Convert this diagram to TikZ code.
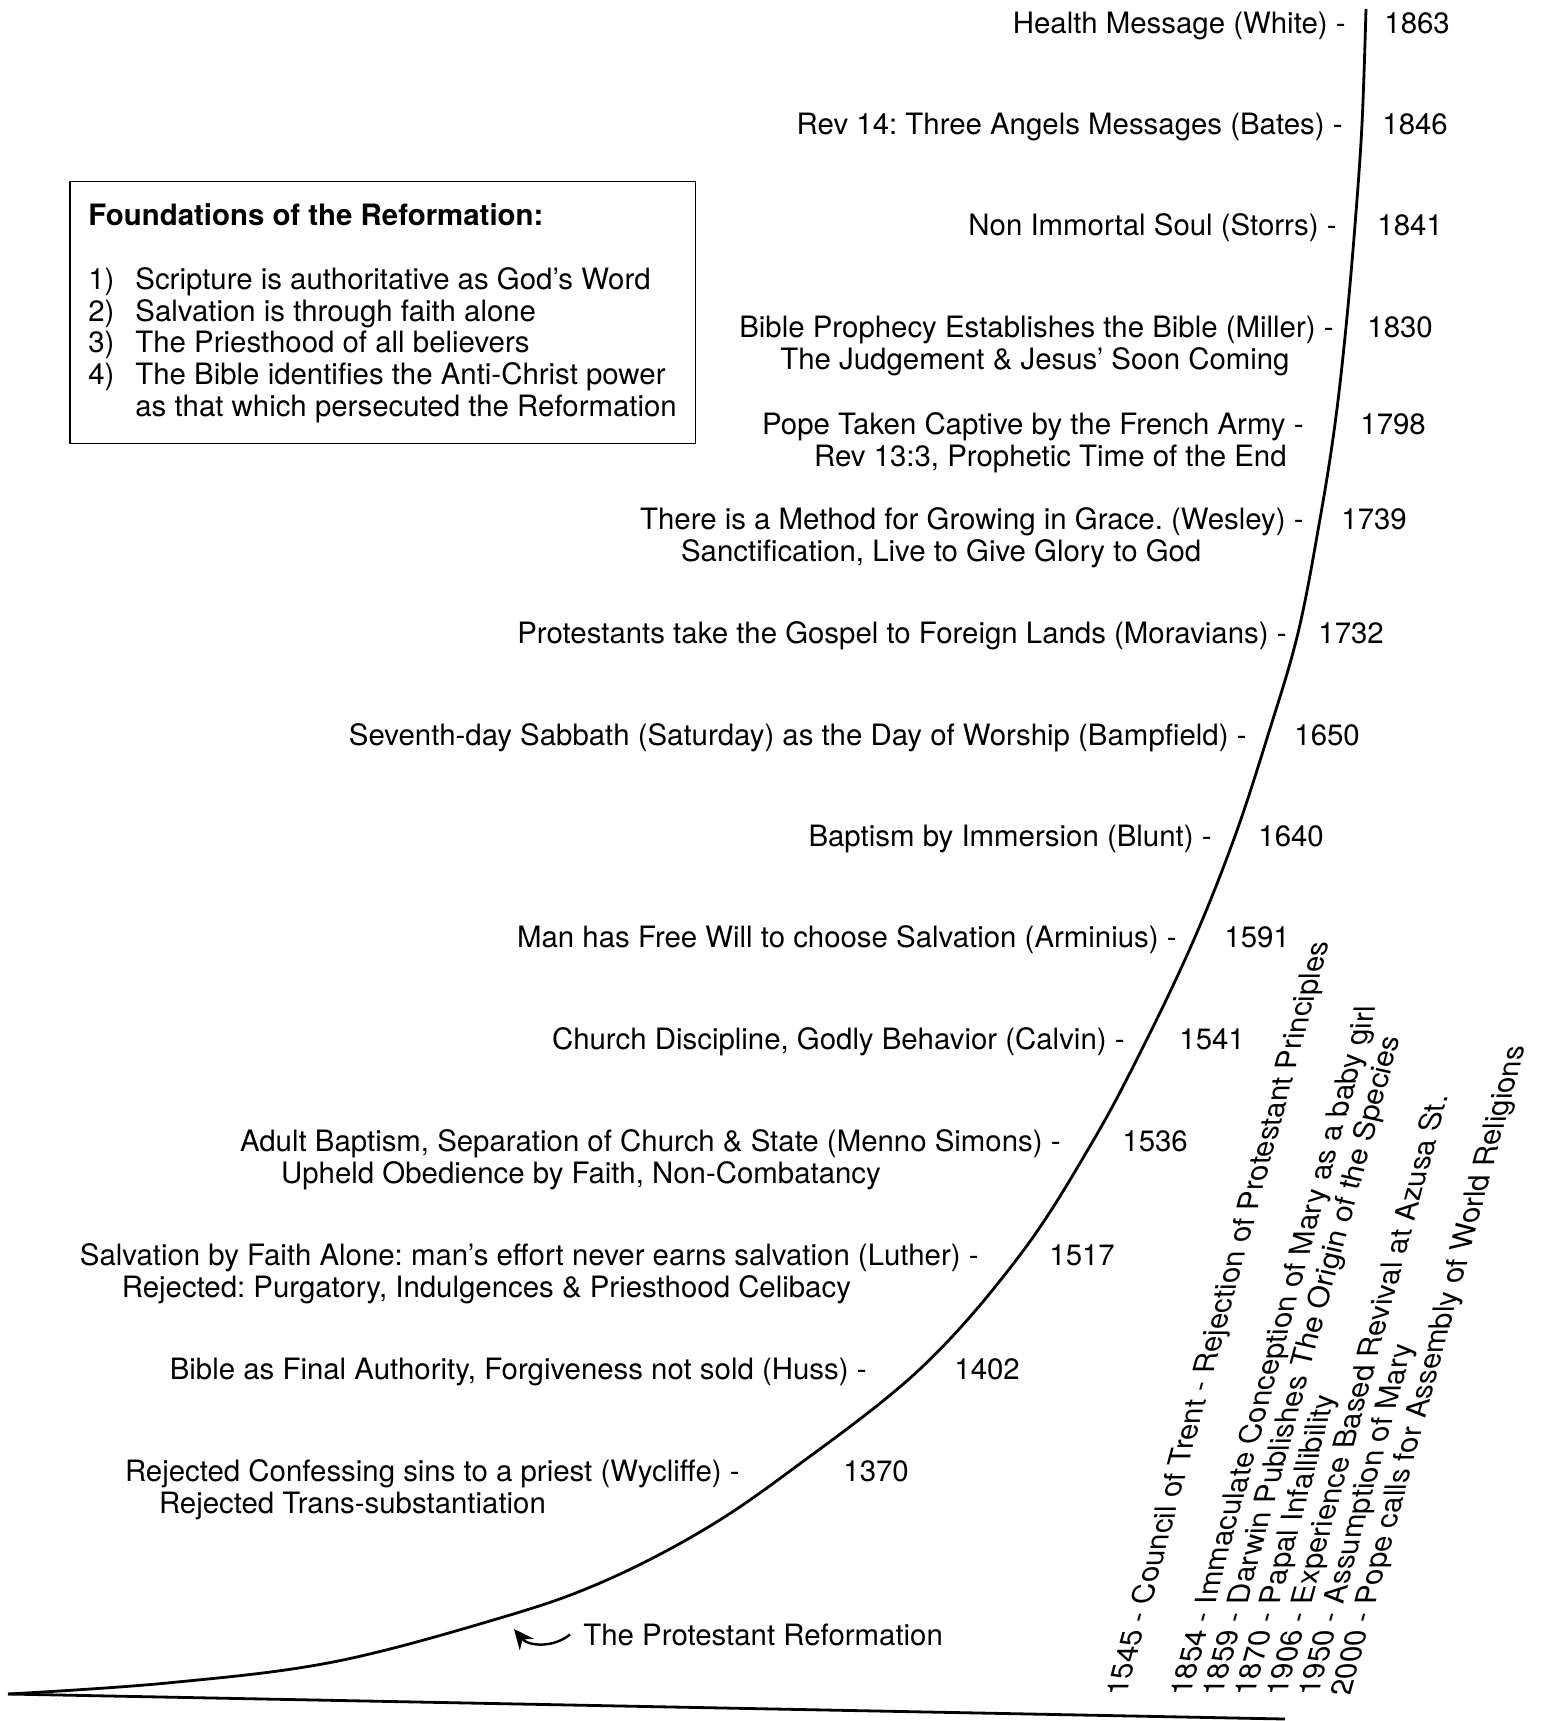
\documentclass[tikz,border=0pt]{standalone}
\usepackage{fontspec}
\setmainfont{TeX Gyre Heros}
\usetikzlibrary{positioning}
\usetikzlibrary{fit}
\usetikzlibrary{arrows.meta}
\frenchspacing
\tikzset{ev/.style={inner sep=0pt,font=\fontsize{14.7}{16}\selectfont,align=left}}
\tikzset{yr/.style={inner sep=0pt,font=\fontsize{14.7}{16}\selectfont,anchor=base west}}
\tikzset{>={Stealth[length=10pt,width=9pt]}}

\begin{document}
\begin{tikzpicture}[x=0.5pt,y=-0.5pt,line width=1.4pt]
\useasboundingbox (0,0) rectangle (1541,1721);

% events, newest at the top (two-line ones sit on their last line)
\node[ev,anchor=base east] (white) at (1347,33) {Health Message (White) -};
\node[ev,anchor=base east] (bates) at (1344,134) {Rev 14: Three Angels Messages (Bates) -};
\node[ev,anchor=base east] (storrs) at (1338,235) {Non Immortal Soul (Storrs) -};
\node[ev,anchor=base east] (miller) at (1335,369) {Bible Prophecy Establishes the Bible (Miller) -\\\hspace*{20.5pt}The Judgement \& Jesus’ Soon Coming};
\node[ev,anchor=base east] (pope) at (1305,466) {Pope Taken Captive by the French Army -\\\hspace*{26pt}Rev 13:3, Prophetic Time of the End};
\node[ev,anchor=base east] (wesley) at (1305,561) {There is a Method for Growing in Grace. (Wesley) -\\\hspace*{20.5pt}Sanctification, Live to Give Glory to God};
\node[ev,anchor=base east] (moravians) at (1288,643) {Protestants take the Gospel to Foreign Lands (Moravians) -};
\node[ev,anchor=base east] (bampfield) at (1248,745) {Seventh-day Sabbath (Saturday) as the Day of Worship (Bampfield) -};
\node[ev,anchor=base east] (blunt) at (1213,846) {Baptism by Immersion (Blunt) -};
\node[ev,anchor=base east] (arminius) at (1178,947) {Man has Free Will to choose Salvation (Arminius) -};
\node[ev,anchor=base east] (calvin) at (1126,1049) {Church Discipline, Godly Behavior (Calvin) -};
\node[ev,anchor=base east] (menno) at (1062,1183) {Adult Baptism, Separation of Church \& State (Menno Simons) -\\\hspace*{20.5pt}Upheld Obedience by Faith, Non-Combatancy};
\node[ev,anchor=base east] (luther) at (980,1297) {Salvation by Faith Alone: man’s effort never earns salvation (Luther) -\\\hspace*{21pt}Rejected: Purgatory, Indulgences \& Priesthood Celibacy};
\node[ev,anchor=base east] (huss) at (868,1379) {Bible as Final Authority, Forgiveness not sold (Huss) -};
\node[ev,anchor=base east] (wycliffe) at (741,1513) {Rejected Confessing sins to a priest (Wycliffe) -\\\hspace*{17pt}Rejected Trans-substantiation};

% years
\node[yr] (y1863) at (1383,33) {1863};
\node[yr] (y1846) at (1381,134) {1846};
\node[yr] (y1841) at (1376,235) {1841};
\node[yr] (y1830) at (1366,337) {1830};
\node[yr] (y1798) at (1359,434) {1798};
\node[yr] (y1739) at (1340,529) {1739};
\node[yr] (y1732) at (1317,643) {1732};
\node[yr] (y1650) at (1293,745) {1650};
\node[yr] (y1640) at (1257,846) {1640};
\node[yr] (y1591) at (1223,947) {1591};
\node[yr] (y1541) at (1178,1049) {1541};
\node[yr] (y1536) at (1121,1151) {1536};
\node[yr] (y1517) at (1048,1265) {1517};
\node[yr] (y1402) at (953,1379) {1402};
\node[yr] (y1370) at (842,1481) {1370};

% foundations box
\node[ev,anchor=base west] (ftitle) at (87,225) {\textbf{Foundations of the Reformation:}};
\node[ev,anchor=base west] (n1) at (87,289) {1)};
\node[ev,anchor=base west] (n2) at (87,321) {2)};
\node[ev,anchor=base west] (n3) at (87,352) {3)};
\node[ev,anchor=base west] (n4) at (87,384) {4)};
\node[ev,anchor=base west] (f1) at (134,289) {Scripture is authoritative as God’s Word};
\node[ev,anchor=base west] (f2) at (134,321) {Salvation is through faith alone};
\node[ev,anchor=base west] (f3) at (134,352) {The Priesthood of all believers};
\node[ev,anchor=base west] (f4) at (134,416) {The Bible identifies the Anti-Christ power\\as that which persecuted the Reformation};
\node[draw,line width=0.6pt,fit=(ftitle) (n1) (f1) (f4),inner xsep=8.5pt,inner ysep=10pt] (found) {};

% the curve and the ground line
\draw plot[smooth,tension=0.6] coordinates {(8,1694) (167,1683) (333,1662) (500,1618) (600,1583) (700,1532) (790,1471) (920,1369) (1020,1255) (1093,1141) (1147,1039) (1195,937) (1235,836) (1268,735) (1298,633) (1320,519) (1335,424) (1346,327) (1355,225) (1362,124) (1366,9)};
\draw (8,1694) -- (1285,1719);

\node[ev,anchor=base west] (reform) at (582,1645) {The Protestant Reformation};
\coordinate (tip) at (514,1629);
\draw[->,line width=1.2pt] ([xshift=-6pt]reform.west) to[bend left=45] (tip);

% later events, slanted (node sits on its last line)
\node[ev,anchor=base west,xslant=0.27,rotate=90] (rome) at (1350,1697) {1545 - Council of Trent - Rejection of Protestant Principles\\[16pt]1854 - Immaculate Conception of Mary as a baby girl\\1859 - Darwin Publishes \textit{The Origin of the Species}\\1870 - Papal Infallibility\\1906 - Experience Based Revival at Azusa St.\\1950 - Assumption of Mary\\2000 - Pope calls for Assembly of World Religions};
\end{tikzpicture}
\end{document}
